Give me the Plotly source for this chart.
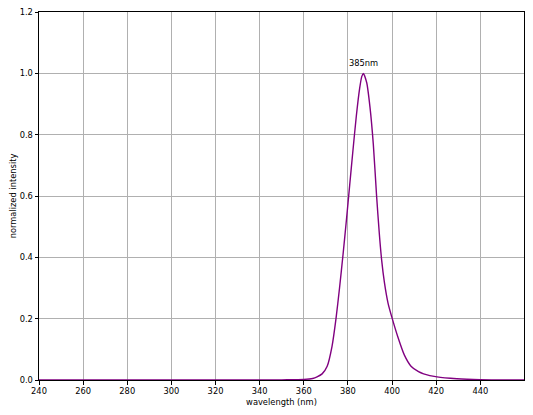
import plotly.graph_objects as go

wavelength = [240, 300, 340, 350, 355, 360, 364, 366, 368.3, 370.6, 372.8, 374.6, 376.2,
              377.8, 379.3, 380.8, 382.3, 383.8, 385.3, 386.3, 387.0, 388.5, 390.0, 391.5,
              393.0, 394.2, 395.3, 396.5, 398.2, 400.1, 402.6, 405.6, 408.6, 412.0, 414.3,
              420.4, 429.4, 440, 450, 460]
intensity = [0, 0, 0, 0.0005, 0.001, 0.002, 0.005, 0.01, 0.02, 0.045, 0.11, 0.2, 0.3,
             0.41, 0.52, 0.635, 0.75, 0.86, 0.95, 0.99, 1.0, 0.97, 0.89, 0.77,
             0.6, 0.48, 0.39, 0.32, 0.25, 0.2, 0.141, 0.081, 0.045, 0.027, 0.02,
             0.01, 0.004, 0.001, 0.0003, 0]
x_ticks = [240, 260, 280, 300, 320, 340, 360, 380, 400, 420, 440]
y_ticks = [0.0, 0.2, 0.4, 0.6, 0.8, 1.0, 1.2]
peak_label = "385nm"
peak_x = 387
peak_y = 1.0

FS = 8.3

fig = go.Figure()
fig.add_trace(go.Scatter(x=wavelength, y=intensity, mode="lines",
                         line=dict(color="#800080", width=1.4, shape="spline", smoothing=0.6),
                         hoverinfo="skip", showlegend=False))
fig.add_annotation(x=peak_x, y=peak_y, text=peak_label, showarrow=False,
                   yshift=10, font=dict(size=FS, color="black"))

axis_common = dict(showline=True, linecolor="black", linewidth=1, mirror=True,
                   ticks="outside", ticklen=3.5, tickcolor="black",
                   showgrid=True, gridcolor="#b0b0b0", gridwidth=1, zeroline=False,
                   automargin=False, ticklabeloverflow="allow",
                   tickfont=dict(size=FS, color="black"))
fig.update_xaxes(range=[240, 459.8], tickvals=x_ticks,
                 title=dict(text="wavelength (nm)", font=dict(size=FS, color="black"), standoff=3),
                 **axis_common)
fig.update_yaxes(range=[0, 1.2], tickvals=y_ticks, tickformat=".1f",
                 title=dict(text="normalized intensity", font=dict(size=FS, color="black"), standoff=4),
                 **axis_common)
# page body has an 8px margin; size the figure so the plot lands where the reference has it
fig.update_layout(width=517, height=399, margin=dict(l=31, r=1, t=4, b=27),
                  plot_bgcolor="white", paper_bgcolor="white",
                  font=dict(family="DejaVu Sans", size=FS, color="black"))
fig.write_html("out.html")
